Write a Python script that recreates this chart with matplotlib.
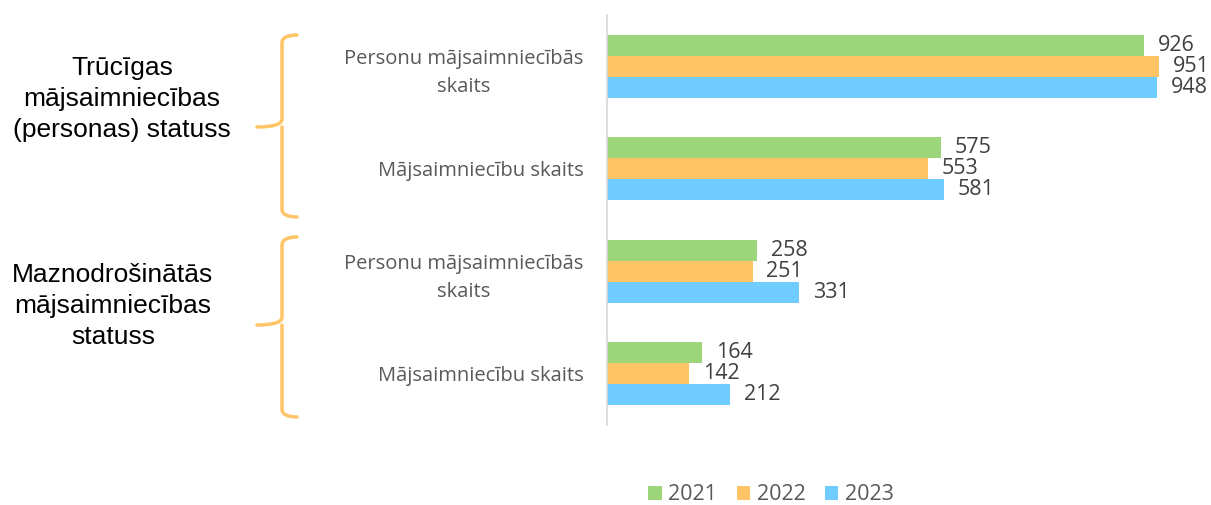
import matplotlib.pyplot as plt
from matplotlib.path import Path
from matplotlib.patches import PathPatch
import numpy as np

categories = ["Personu mājsaimniecībās\nskaits", "Mājsaimniecību skaits",
              "Personu mājsaimniecībās\nskaits", "Mājsaimniecību skaits"]
years = ["2021", "2022", "2023"]
v2021 = [926, 575, 258, 164]
v2022 = [951, 553, 251, 142]
v2023 = [948, 581, 331, 212]
groups = ["Trūcīgas\nmājsaimniecības\n(personas) statuss",
          "Maznodrošinātās\nmājsaimniecības\nstatuss"]

colors = ["#9DD67A", "#FFC466", "#70CBFF"]
W, H = 1211, 505

fig = plt.figure(figsize=(W / 100, H / 100), dpi=100)
ax = fig.add_axes([607 / W, 1 - 425 / H, 580 / W, 410 / H])

y = np.arange(len(categories))
h = 0.205
for i, (vals, col, yr) in enumerate(zip([v2021, v2022, v2023], colors, years)):
    bars = ax.barh(y + (i - 1) * h, vals, height=h, color=col, label=yr)
    ax.bar_label(bars, padding=10, fontsize=15.5, color="#404040", family="Open Sans")

ax.set_xlim(0, 1000)
ax.set_ylim(3.5, -0.5)
ax.set_yticks(y)
ax.set_yticklabels(categories, fontsize=14.5, color="#595959", family="Open Sans",
                   multialignment="center", linespacing=1.55)
ax.tick_params(axis="y", length=0, pad=17)
ax.set_xticks([])
for s in ["top", "right", "bottom"]:
    ax.spines[s].set_visible(False)
ax.spines["left"].set_color("#D9D9D9")
ax.spines["left"].set_linewidth(1.2)

leg = ax.legend(loc="center", bbox_to_anchor=(771 / W, 1 - 495 / H),
                bbox_transform=fig.transFigure, ncol=3, frameon=False,
                handlelength=0.63, handleheight=0.63, handletextpad=0.3,
                columnspacing=0.9, prop={"family": "Open Sans", "size": 15.5})
for t in leg.get_texts():
    t.set_color("#595959")


def brace(top, tip, bottom, x_tip=257, x_spine=282, x_end=297):
    # curly brace in pixel coords, converted to figure fraction
    r = 8
    pts = [(x_end, top), (x_spine, top), (x_spine, top + r),
           (x_spine, tip - r), (x_spine, tip), (x_tip, tip),
           (x_spine, tip), (x_spine, tip + r),
           (x_spine, bottom - r), (x_spine, bottom), (x_end, bottom)]
    codes = [Path.MOVETO, Path.CURVE3, Path.CURVE3, Path.LINETO,
             Path.CURVE3, Path.CURVE3, Path.MOVETO, Path.CURVE3,
             Path.LINETO, Path.CURVE3, Path.CURVE3]
    pts = [(px / W, 1 - py / H) for px, py in pts]
    fig.add_artist(PathPatch(Path(pts, codes), transform=fig.transFigure,
                             fill=False, edgecolor="#FFC466", lw=2.5,
                             capstyle="round"))


brace(35, 127, 217)
brace(237, 325, 417)

fig.text(122 / W, 1 - 99 / H, groups[0], ha="center", va="center",
         fontsize=19, family="Liberation Sans", linespacing=1.38)
fig.text(113 / W, 1 - 306 / H, groups[1], ha="center", va="center",
         fontsize=19, family="Liberation Sans", linespacing=1.38)

fig.savefig("out.png", dpi=100)
